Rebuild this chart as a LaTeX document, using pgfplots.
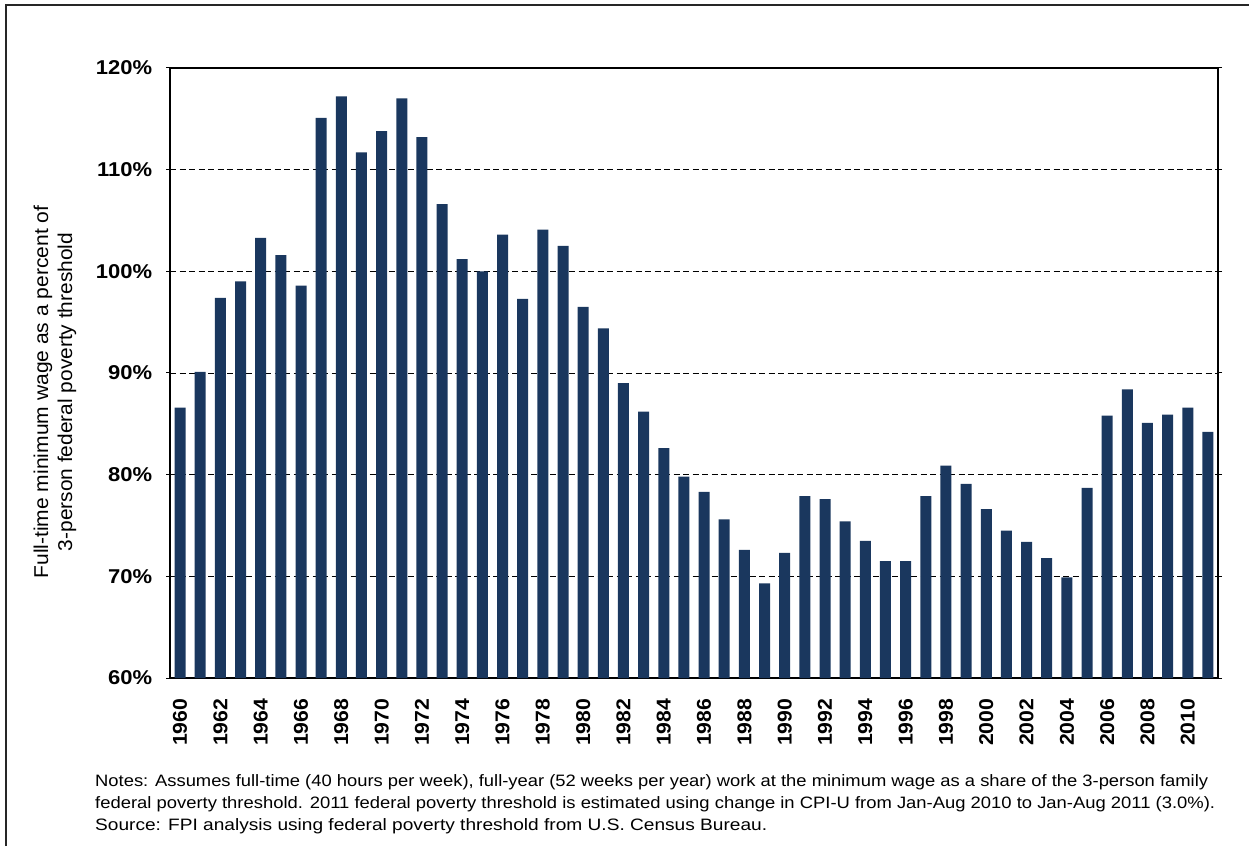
\documentclass[border=0pt]{standalone}
\usepackage{pgfplots}
\pgfplotsset{compat=1.18}
\usepackage{fontspec}
\setmainfont{Liberation Sans}
\definecolor{navy}{RGB}{26,55,94}
\pgfplotstableread{
year val
1960 86.6
1961 90.1
1962 97.4
1963 99.0
1964 103.3
1965 101.6
1966 98.6
1967 115.1
1968 117.2
1969 111.7
1970 113.8
1971 117.0
1972 113.2
1973 106.6
1974 101.2
1975 100.0
1976 103.6
1977 97.3
1978 104.1
1979 102.5
1980 96.5
1981 94.4
1982 89.0
1983 86.2
1984 82.6
1985 79.8
1986 78.3
1987 75.6
1988 72.6
1989 69.3
1990 72.3
1991 77.9
1992 77.6
1993 75.4
1994 73.5
1995 71.5
1996 71.5
1997 77.9
1998 80.9
1999 79.1
2000 76.6
2001 74.5
2002 73.4
2003 71.8
2004 69.9
2005 78.7
2006 85.8
2007 88.4
2008 85.1
2009 85.9
2010 86.6
2011 84.2
}\datatable
\begin{document}
\begin{tikzpicture}[x=1pt,y=1pt]
\path[use as bounding box] (0,0) rectangle (1249,846);
\draw[line width=1.3pt, black!85] (6,0) -- (6,841) -- (1249,841);
\begin{axis}[
  at={(170pt,168pt)}, anchor=south west,
  scale only axis, width=1048pt, height=610pt,
  xmin=1959.5, xmax=2011.5, ymin=60, ymax=120,
  axis line style={black, line width=1.3pt},
  ytick={60,70,...,120},
  yticklabels={60\%,70\%,80\%,90\%,100\%,110\%,120\%},
  yticklabel style={font=\bfseries\fontsize{20}{20}\selectfont, xshift=-10pt, xscale=1.1},
  xtick={1960,1962,...,2010},
  xticklabel style={/pgf/number format/1000 sep=, /pgf/number format/assume math mode=true,
    yshift=-13pt, rotate=90, anchor=east, xscale=1.06, font=\bfseries\fontsize{20}{20}\selectfont},
  xtick style={draw=none},
  ytick style={black, line width=1pt},
  tick align=outside, major tick length=4pt,
  ymajorgrids, major grid style={black, line width=0.9pt, dash pattern=on 6pt off 3.5pt},
  ybar, bar width=11pt, bar shift=0pt,
]
\addplot[fill=navy, draw=none] table[x=year, y=val] {\datatable};
\end{axis}
\node[rotate=90, inner sep=0pt, font=\fontsize{20}{20}\selectfont] at (43,454) {\resizebox{373pt}{\height}{Full-time minimum wage as a percent of}};
\node[rotate=90, inner sep=0pt, font=\fontsize{20}{20}\selectfont] at (67,454) {\resizebox{318pt}{\height}{3-person federal poverty threshold}};
\node[anchor=west, font=\fontsize{16.5}{16.5}\selectfont, inner sep=0pt] at (95,64) {\resizebox{1113pt}{\height}{Notes: Assumes full-time (40 hours per week), full-year (52 weeks per year) work at the minimum wage as a share of the 3-person family}};
\node[anchor=west, font=\fontsize{16.5}{16.5}\selectfont, inner sep=0pt] at (95,42) {\resizebox{1120pt}{\height}{federal poverty threshold. 2011 federal poverty threshold is estimated using change in CPI-U from Jan-Aug 2010 to Jan-Aug 2011 (3.0\%).}};
\node[anchor=west, font=\fontsize{16.5}{16.5}\selectfont, inner sep=0pt] at (95,20) {\resizebox{672pt}{\height}{Source: FPI analysis using federal poverty threshold from U.S. Census Bureau.}};
\end{tikzpicture}
\end{document}
